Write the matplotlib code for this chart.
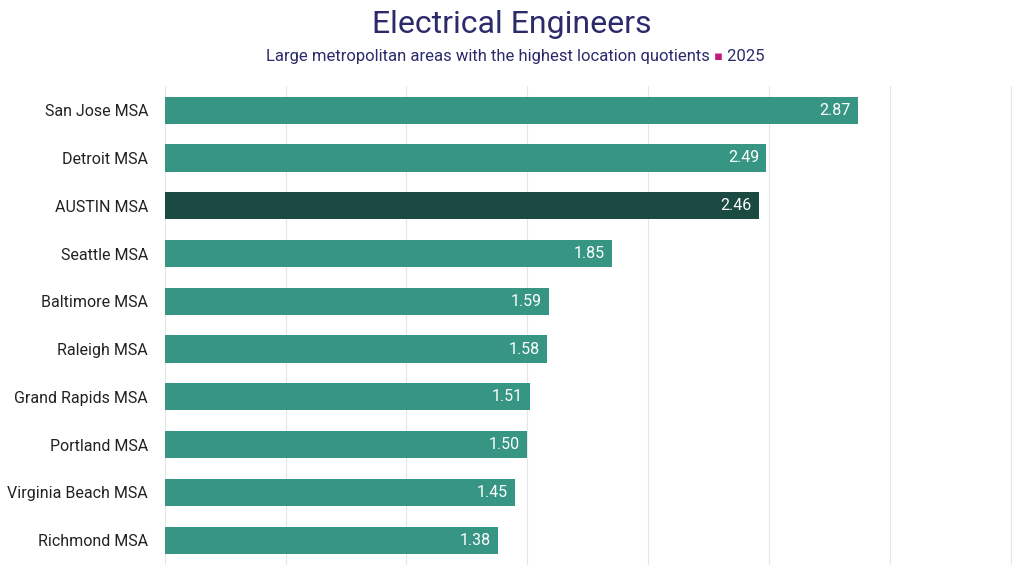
import matplotlib.pyplot as plt

plt.rcParams['font.family'] = ['Roboto', 'DejaVu Sans']

areas = ['San Jose MSA', 'Detroit MSA', 'AUSTIN MSA', 'Seattle MSA', 'Baltimore MSA',
         'Raleigh MSA', 'Grand Rapids MSA', 'Portland MSA', 'Virginia Beach MSA', 'Richmond MSA']
quotients = [2.87, 2.49, 2.46, 1.85, 1.59, 1.58, 1.51, 1.50, 1.45, 1.38]
highlight = 'AUSTIN MSA'

title_col = '#2b2a6b'
fig = plt.figure(figsize=(10.24, 5.76), dpi=100, facecolor='white')
ax = fig.add_axes([0.161, 0.019, 0.827, 0.832])

ypos = list(range(len(areas)))
colors = ['#1b4a42' if a == highlight else '#379683' for a in areas]
ax.barh(ypos, quotients, height=0.57, color=colors, zorder=2)
for y, v in zip(ypos, quotients):
    ax.text(v - 0.03, y, f'{v:.2f}', ha='right', va='center', color='white', fontsize=11.5, zorder=3)

ax.set_yticks(ypos)
ax.set_yticklabels(areas, fontsize=11.5, color='#222222')
ax.set_ylim(len(areas) - 0.48, -0.51)
ax.set_xlim(0, 3.505)
ax.set_xticks([0, 0.5, 1, 1.5, 2, 2.5, 3, 3.5])
ax.tick_params(axis='x', length=0, labelbottom=False)
ax.tick_params(axis='y', length=0, pad=12)
ax.grid(axis='x', color='#e6e6e6', lw=0.8, zorder=0)
for s in ax.spines.values():
    s.set_visible(False)

fig.text(0.5, 0.957, 'Electrical Engineers', ha='center', va='center', fontsize=23, color=title_col)
t1 = fig.text(0.26, 0.902, 'Large metropolitan areas with the highest location quotients ',
              ha='left', va='center', fontsize=12, color=title_col)
t2 = ax.annotate('\u25aa', xy=(1, 0.5), xycoords=t1, ha='left', va='center', fontsize=9.5, color='#c2187a')
ax.annotate(' 2025', xy=(1, 0.5), xycoords=t2, ha='left', va='center', fontsize=12, color=title_col)

fig.savefig('out.png', dpi=100, facecolor='white')
